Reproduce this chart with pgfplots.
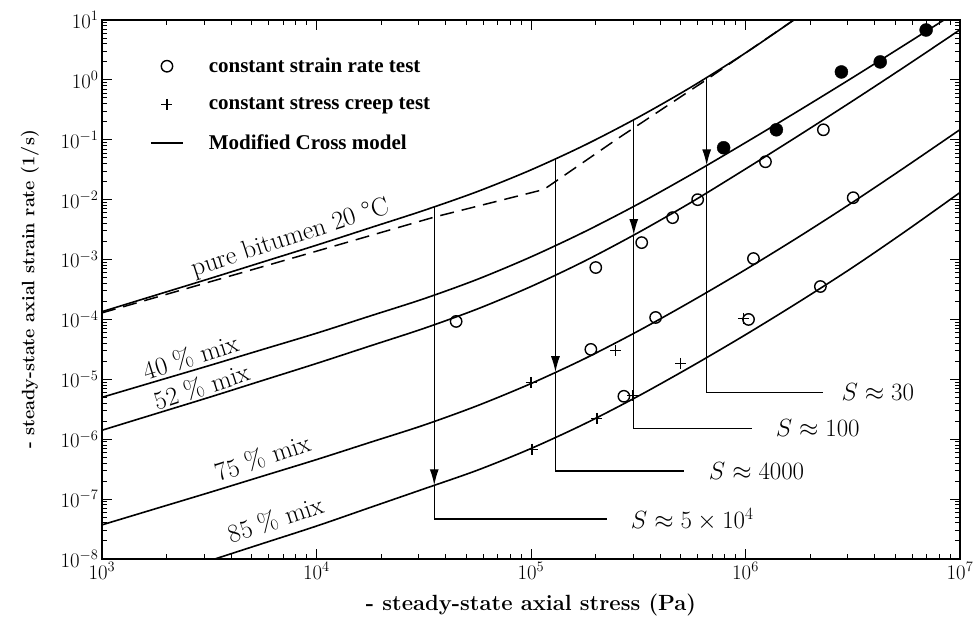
\documentclass[border=0pt]{standalone}
\usepackage{fontspec}
\usepackage{pgfplots}
\pgfplotsset{compat=1.18}
\usetikzlibrary{arrows.meta}
\newfontfamily\legendfont{Liberation Serif}
\begin{document}
\begin{tikzpicture}
\path[use as bounding box] (-102pt,-62pt) rectangle (875pt,559pt);
\begin{axis}[
  at={(0,0)}, anchor=south west,
  scale only axis, width=858pt, height=539pt,
  xmode=log, ymode=log,
  xmin=1e3, xmax=1e7, ymin=1e-8, ymax=1e1,
  xtick={1e3,1e4,1e5,1e6,1e7},
  ytick={1e-8,1e-7,1e-6,1e-5,1e-4,1e-3,1e-2,1e-1,1,10},
  tick label style={font=\fontsize{21}{21}\selectfont},
  major tick length=10pt, minor tick length=5pt,
  every tick/.style={black, line width=1pt},
  axis line style={line width=1.6pt},
  xlabel={- steady-state axial stress (Pa)},
  ylabel={- steady-state axial strain rate (1/s)},
  xlabel style={font=\bfseries\fontsize{22}{22}\selectfont, at={(axis description cs:0.5,-0.085)}, anchor=center},
  ylabel style={font=\bfseries\fontsize{18}{18}\selectfont, at={(axis description cs:-0.084,0.5)}, anchor=center},
  legend image code/.code={\draw[mark repeat=2,mark phase=2,#1] plot coordinates {(0pt,0pt)(16pt,0pt)(32pt,0pt)};},
  legend cell align=left,
  legend style={draw=none, fill=none, at={(axis description cs:0.0559,0.9295)}, anchor=north west,
    inner sep=0pt, row sep=23.5pt, column sep=25pt, nodes={inner sep=0pt},
    font=\legendfont\bfseries\fontsize{21}{21}\selectfont},
]
% open circles (constant strain rate test)
\addplot[only marks, mark=o, mark size=5.7pt, mark options={line width=1.4pt, black}] coordinates {
  (4.477e4,9.27e-5) (2.004e5,7.362e-4) (3.281e5,1.919e-3) (4.571e5,5.012e-3) (5.984e5,1e-2)
  (1.239e6,4.295e-2) (2.307e6,0.1469) (1.089e6,1.040e-3) (3.177e6,1.079e-2) (2.234e6,3.548e-4)
  (1.033e6,1e-4) (3.811e5,1.079e-4) (1.901e5,3.162e-5) (2.710e5,5.212e-6)
};
\addlegendentry{constant strain rate test}
% pluses (constant stress creep test)
\addplot[only marks, mark=+, mark size=5.5pt, mark options={line width=1.4pt, black}] coordinates {
  (1e5,8.913e-6) (2.483e5,3.041e-5) (4.989e5,1.849e-5) (2.028e5,2.239e-6) (1.012e5,6.808e-7)
  (2.979e5,5.37e-6) (9.772e5,1.047e-4)
};
\addlegendentry{constant stress creep test}
% pure bitumen 20 C
\addplot[black, line width=1.6pt, smooth, tension=0.5] coordinates {
  (1e3,1.349e-4) (1778,2.541e-4) (3162,4.786e-4) (5623,9.12e-4) (1e4,1.738e-3)
  (1.778e4,3.388e-3) (3.162e4,6.607e-3) (5.623e4,1.365e-2) (1e5,3.144e-2)
  (1.778e5,8.128e-2) (3.162e5,0.2371) (5.623e5,0.7720) (1e6,2.818) (1.679e6,10)
};
\addlegendentry{Modified Cross model}
% dashed
\addplot[black, line width=1.5pt, dash pattern=on 14pt off 8pt, forget plot] coordinates {
  (1e3,1.288e-4) (1e4,1.380e-3) (3.548e4,5.129e-3) (1.148e5,1.479e-2) (2.512e5,0.1023)
  (6.310e5,0.912) (1e6,2.818) (1.679e6,10)
};
% 40 % mix
\addplot[black, line width=1.6pt, smooth, tension=0.5, forget plot] coordinates {
  (1e3,5.012e-6) (1778,9.226e-6) (3162,1.698e-5) (5623,3.162e-5) (1e4,5.888e-5)
  (1.778e4,1.142e-4) (3.162e4,2.213e-4) (5.623e4,4.677e-4) (1e5,1.109e-3)
  (1.778e5,2.917e-3) (3.162e5,8.46e-3) (5.623e5,2.676e-2) (1e6,8.964e-2)
  (1.778e6,0.309) (3.162e6,1.096) (5.623e6,4.004) (8.414e6,10)
};
% 52 % mix
\addplot[black, line width=1.6pt, smooth, tension=0.5, forget plot] coordinates {
  (1e3,1.413e-6) (1778,2.661e-6) (3162,5.012e-6) (5623,9.605e-6) (1e4,1.841e-5)
  (1.778e4,3.610e-5) (3.162e4,7.079e-5) (5.623e4,1.496e-4) (1e5,3.548e-4)
  (1.778e5,9.441e-4) (3.162e5,2.818e-3) (5.623e5,9.173e-3) (1e6,3.254e-2)
  (1.778e6,0.1189) (3.162e6,0.4467) (5.623e6,1.728) (1e7,6.879)
};
% 75 % mix
\addplot[black, line width=1.6pt, smooth, tension=0.5, forget plot] coordinates {
  (1e3,3.715e-8) (1778,6.918e-8) (3162,1.288e-7) (5623,2.427e-7) (1e4,4.571e-7)
  (1.778e4,8.861e-7) (3.162e4,1.718e-6) (5.623e4,3.631e-6) (1e5,8.511e-6)
  (1.778e5,2.213e-5) (3.162e5,6.420e-5) (5.623e5,2.030e-4) (1e6,6.800e-4)
  (1.778e6,2.413e-3) (3.162e6,9.07e-3) (5.623e6,3.610e-2) (1e7,0.1479)
};
% 85 % mix
\addplot[black, line width=1.6pt, smooth, tension=0.5, forget plot] coordinates {
  (3162,9.333e-9) (5623,1.820e-8) (1e4,3.548e-8) (1.778e4,7.244e-8) (3.162e4,1.479e-7)
  (5.623e4,3.038e-7) (1e5,6.998e-7) (1.778e5,1.809e-6) (3.162e5,5.248e-6)
  (5.623e5,1.660e-5) (1e6,5.559e-5) (1.778e6,1.972e-4) (3.162e6,7.413e-4)
  (5.623e6,3.038e-3) (1e7,1.318e-2)
};
% filled circles
\addplot[only marks, mark=*, mark size=6.5pt, mark options={black, fill=black}, forget plot] coordinates {
  (7.907e5,7.362e-2) (1.393e6,0.1469) (2.799e6,1.358) (4.246e6,1.995) (6.95e6,6.808)
};
% S arrows
\addplot[black, line width=1.4pt, -{Latex[length=16pt,width=9pt]}, forget plot] coordinates {(6.592e5,1.104) (6.592e5,3.733e-2)};
\addplot[black, line width=1.4pt, forget plot] coordinates {(6.592e5,3.733e-2) (6.592e5,6.067e-6) (2.307e6,6.067e-6)};
\addplot[black, line width=1.4pt, -{Latex[length=16pt,width=9pt]}, forget plot] coordinates {(3.013e5,0.2158) (3.013e5,2.570e-3)};
\addplot[black, line width=1.4pt, forget plot] coordinates {(3.013e5,2.570e-3) (3.013e5,1.524e-6) (1.067e6,1.524e-6)};
\addplot[black, line width=1.4pt, -{Latex[length=16pt,width=9pt]}, forget plot] coordinates {(1.300e5,4.853e-2) (1.300e5,1.315e-5)};
\addplot[black, line width=1.4pt, forget plot] coordinates {(1.300e5,1.315e-5) (1.300e5,2.931e-7) (5.152e5,2.931e-7)};
\addplot[black, line width=1.4pt, -{Latex[length=16pt,width=9pt]}, forget plot] coordinates {(3.540e4,7.621e-3) (3.540e4,1.702e-7)};
\addplot[black, line width=1.4pt, forget plot] coordinates {(3.540e4,1.702e-7) (3.540e4,4.645e-8) (2.254e5,4.645e-8)};
% S labels
\node[anchor=west, inner sep=0pt, xshift=18pt, font=\fontsize{25}{25}\selectfont] at (axis cs:2.307e6,6.067e-6) {$S \approx 30$};
\node[anchor=west, inner sep=0pt, xshift=24pt, font=\fontsize{25}{25}\selectfont] at (axis cs:1.067e6,1.524e-6) {$S \approx 100$};
\node[anchor=west, inner sep=0pt, xshift=25pt, font=\fontsize{25}{25}\selectfont] at (axis cs:5.152e5,2.931e-7) {$S \approx 4000$};
\node[anchor=west, inner sep=0pt, xshift=24pt, font=\fontsize{25}{25}\selectfont] at (axis cs:2.254e5,4.645e-8) {$S \approx 5\times10^4$};
% curve labels
\node[anchor=base, inner sep=0pt, rotate=18, font=\fontsize{26}{26}\selectfont] at (axis cs:7.727e3,1.778e-3) {pure bitumen 20 °C};
\node[anchor=base, inner sep=0pt, rotate=17.5, font=\fontsize{26}{26}\selectfont] at (axis cs:2.679e3,1.710e-5) {40 \% mix};
\node[anchor=base, inner sep=0pt, rotate=18, font=\fontsize{26}{26}\selectfont] at (axis cs:3.013e3,5.408e-6) {52 \% mix};
\node[anchor=base, inner sep=0pt, rotate=18.5, font=\fontsize{26}{26}\selectfont] at (axis cs:5.794e3,3.548e-7) {75 \% mix};
\node[anchor=base, inner sep=0pt, rotate=18.5, font=\fontsize{26}{26}\selectfont] at (axis cs:6.653e3,3.289e-8) {85 \% mix};
\end{axis}
\end{tikzpicture}
\end{document}
